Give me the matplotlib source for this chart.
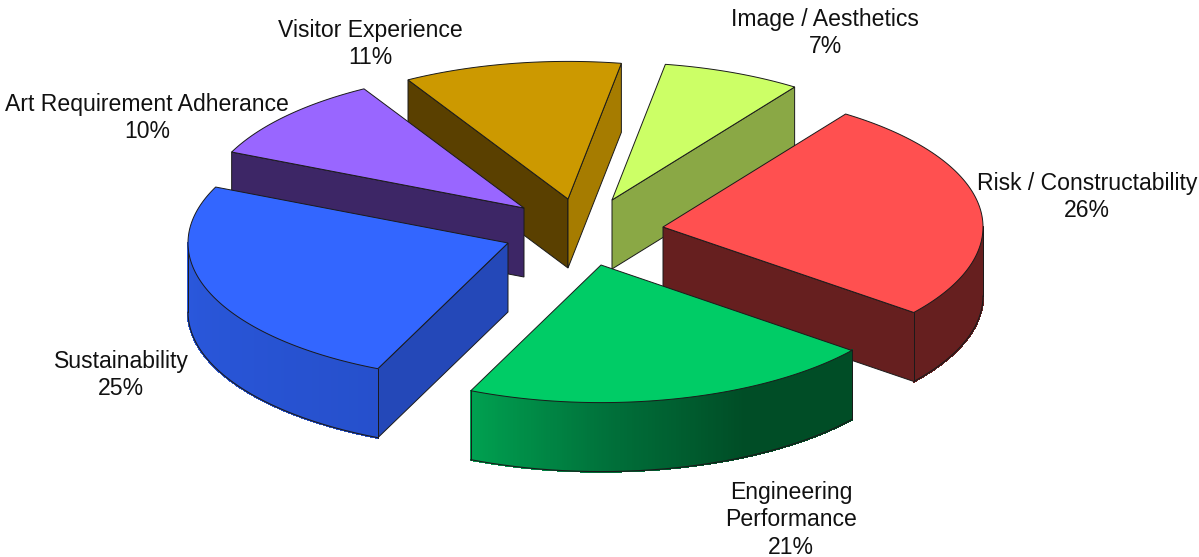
import numpy as np
import matplotlib
matplotlib.use('Agg')
import matplotlib.pyplot as plt
from matplotlib.collections import PolyCollection
from matplotlib.colors import LinearSegmentedColormap
from matplotlib.patches import Polygon

plt.rcParams['font.family'] = ['Liberation Sans', 'DejaVu Sans']

labels = ['Risk / Constructability', 'Engineering\nPerformance', 'Sustainability',
          'Art Requirement Adherance', 'Visitor Experience', 'Image / Aesthetics']
shares = [26, 21, 25, 10, 11, 7]

# styling for each slice, same order as above
top_colors = ['#FF5050', '#00CC66', '#3366FF', '#9966FF', '#CC9900', '#CCFF66']
start_wall_colors = ['#661F1F', '#004D26', '#2448B8', '#3D2666', '#5A4000', '#8AA845']
end_wall_colors = ['#661F1F', '#004D26', '#2448B8', '#3D2666', '#A67C00', '#8AA845']
arc_stops = [['#661F1F', '#661F1F'],
             ['#004D26', '#004D26', '#00703A', '#00A050'],
             ['#2650CC', '#2A58DD'],
             ['#3D2666', '#3D2666'],
             ['#5A4000', '#5A4000'],
             ['#8AA845', '#8AA845']]
# where each slice's apex sits, relative to the pie centre
offset_x = [78, 16, -77, -61, -17, 27]
offset_y = [-1, 37, 15, -20, -29, -28]

label_x = [1087, 791, 121, 147, 370, 825]
label_y = [197, 520, 375, 118, 44, 33]

center_x, center_y = 585, 228
radius_x, radius_y = 320, 137.6
depth = 69
start_angle = 55.2
edge = '#1a1a1a'
draw_order = [4, 5, 3, 0, 2, 1]


def i_z(i):
    return 2 + draw_order.index(i)


def rim(angle, ox, oy, drop=0):
    rad = np.radians(angle)
    x = center_x + ox + radius_x * np.cos(rad)
    y = center_y + oy - radius_y * np.sin(rad) + drop
    return np.column_stack([x, y])


def draw_slice(ax, i, a0, a1):
    ox, oy = offset_x[i], offset_y[i]
    apex = np.array([center_x + ox, center_y + oy])
    drop = np.array([0, depth])

    # flat cut walls, only when they face the viewer
    p0 = rim(a0, ox, oy)[0]
    p1 = rim(a1, ox, oy)[0]
    if np.sin(np.radians(a0 + 90)) < 0:
        ax.add_patch(Polygon([apex, p0, p0 + drop, apex + drop], closed=True,
                             fc=start_wall_colors[i], ec=edge, lw=0.7, zorder=i_z(i)))
    if np.sin(np.radians(a1 - 90)) < 0:
        ax.add_patch(Polygon([apex, p1, p1 + drop, apex + drop], closed=True,
                             fc=end_wall_colors[i], ec=edge, lw=0.7, zorder=i_z(i)))

    # curved wall
    angles = np.linspace(a0, a1, 240)
    front = angles[np.sin(np.radians(angles)) <= 0]
    if len(front) > 1:
        cmap = LinearSegmentedColormap.from_list('wall', arc_stops[i])
        upper = rim(front, ox, oy)
        lower = rim(front, ox, oy, depth)
        quads = [[upper[k], upper[k + 1], lower[k + 1], lower[k]] for k in range(len(front) - 1)]
        fracs = np.linspace(0, 1, len(quads))
        ax.add_collection(PolyCollection(quads, facecolors=cmap(fracs), edgecolors=cmap(fracs),
                                         linewidths=1.0, antialiaseds=False, zorder=i_z(i)))
        ax.plot(lower[:, 0], lower[:, 1], color=edge, lw=0.8, zorder=i_z(i) + 0.1)
        for pt, low in ((upper[0], lower[0]), (upper[-1], lower[-1])):
            ax.plot([pt[0], low[0]], [pt[1], low[1]], color=edge, lw=0.7, zorder=i_z(i) + 0.1)

    # top face
    arc = rim(np.linspace(a0, a1, 120), ox, oy)
    ax.add_patch(Polygon(np.vstack([apex, arc]), closed=True, fc=top_colors[i], ec=edge,
                         lw=0.7, zorder=i_z(i) + 0.2))


fig = plt.figure(figsize=(11.99, 5.57), dpi=100)
ax = fig.add_axes([0, 0, 1, 1])
ax.set_xlim(0, 1199)
ax.set_ylim(557, 0)
ax.axis('off')

sweeps = np.array(shares) / sum(shares) * 360
ends = start_angle - np.cumsum(sweeps)
starts = ends + sweeps
for i in range(len(shares)):
    draw_slice(ax, i, starts[i], ends[i])

for i in range(len(shares)):
    ax.text(label_x[i], label_y[i], f'{labels[i]}\n{shares[i]}%', ha='center', va='center',
            fontsize=16.6, linespacing=1.23, color='#111111', zorder=20)

fig.savefig('out.png', dpi=100)
